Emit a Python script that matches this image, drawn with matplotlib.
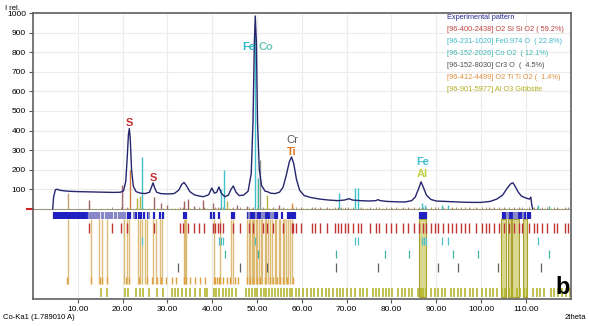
import matplotlib
matplotlib.use("Agg")
import matplotlib.pyplot as plt
import matplotlib.transforms as mtransforms

plt.rcParams['font.family'] = ['Liberation Sans', 'DejaVu Sans']

# experimental pattern (2theta, I rel.)
two_theta = [4.4, 4.6, 5.0, 5.5, 6.0, 7.0, 8.0, 10.0, 12.0, 14.0, 16.0, 18.0, 19.5, 20.2, 20.7,
             21.0, 21.3, 21.5, 21.7, 22.0, 22.4, 23.0, 24.0, 25.0, 26.0, 26.5, 26.8, 27.1, 27.6,
             28.5, 30.0, 31.5, 32.5, 33.2, 33.7, 34.2, 35.0, 36.0, 37.0, 38.0, 39.2, 39.9, 40.5,
             41.0, 41.5, 42.0, 42.8, 43.6, 44.2, 44.7, 45.3, 46.0, 47.0, 48.0, 48.7, 49.1, 49.4,
             49.6, 49.85, 50.1, 50.5, 51.0, 51.8, 52.3, 53.0, 54.0, 55.0, 55.8, 56.5, 57.2, 57.7,
             58.2, 58.8, 59.5, 60.5, 62.0, 64.0, 66.0, 68.0, 69.5, 70.5, 71.3, 73.0, 75.0, 76.5,
             77.0, 77.5, 79.0, 81.0, 83.0, 84.5, 85.3, 86.0, 86.6, 87.2, 87.8, 88.8, 90.0, 92.0,
             94.0, 96.0, 98.0, 100.0, 102.0, 103.5, 104.8, 105.8, 106.6, 107.1, 107.6, 108.3,
             109.0, 110.0, 110.8, 111.1, 111.3, 111.5]
intensity = [0, 60, 98, 100, 95, 92, 90, 88, 87, 86, 85, 84, 85, 92, 140,
             250, 380, 410, 360, 200, 115, 88, 80, 78, 85, 115, 133, 110, 85,
             78, 76, 78, 95, 125, 135, 120, 88, 72, 66, 62, 72, 106, 80,
             85, 112, 80, 62, 70, 100, 117, 85, 68, 70, 90, 180, 450, 850,
             985, 850, 450, 200, 120, 90, 88, 80, 78, 85, 110, 170, 240, 265,
             230, 150, 95, 68, 58, 50, 45, 42, 45, 52, 45, 42, 40, 42,
             47, 42, 38, 36, 35, 42, 60, 100, 138, 105, 70, 48, 40, 38,
             36, 34, 33, 33, 38, 50, 70, 105, 128, 133, 115, 85,
             65, 55, 50, 60, 20, 2]

# peak markers of the experimental pattern
exp_marks_dark = [4.6, 5.0, 5.4, 5.8, 6.3, 6.7, 7.2, 7.6, 8.1, 8.5, 9.0, 9.4, 9.9, 10.3, 10.8,
                  11.2, 11.7, 12.1, 21.3, 21.7, 23.0, 23.6, 24.2, 24.8, 25.6, 27.0, 28.4, 29.1,
                  33.6, 33.9, 34.2, 39.8, 40.3, 41.6, 44.3, 44.8, 47.9, 48.3, 48.7, 49.1, 49.5,
                  49.9, 50.3, 50.7, 52.0, 52.4, 52.8, 54.0, 54.4, 55.5, 56.9, 57.3, 57.7, 58.1,
                  58.5, 86.4, 86.8, 87.2, 87.6, 104.9, 105.3, 106.5, 106.9, 108.4, 108.8, 109.8,
                  110.4, 110.9]
exp_marks_light = [12.6, 13.0, 13.4, 13.9, 14.3, 14.8, 15.3, 15.7, 16.2, 16.7, 17.2, 17.7, 18.2,
                   18.6, 19.1, 19.6, 20.0, 20.5, 22.5, 26.0, 48.1, 49.7, 51.2, 51.6, 53.2, 53.6,
                   105.7, 106.1, 107.3, 107.7, 108.0, 109.3]

# reference phases
sio2 = [12.5, 17.7, 19.7, 21.0, 27.0, 32.9, 33.5, 34.7, 35.9, 37.1, 38.2, 40.1, 40.7, 41.2,
        41.8, 42.4, 44.7, 46.1, 48.1, 49.2, 51.4, 52.2, 53.6, 55.8, 57.7, 58.1, 58.8, 59.9,
        62.2, 62.9, 64.0, 65.5, 67.3, 68.1, 68.8, 69.6, 70.3, 71.4, 72.5, 73.3, 75.1, 76.6,
        77.3, 78.8, 79.9, 81.0, 82.5, 83.6, 85.1, 86.2, 87.0, 87.7, 88.8, 89.6, 90.3, 91.4,
        92.5, 93.6, 94.4, 95.5, 96.4, 97.3, 98.8, 100.3, 101.0, 101.8, 102.9, 104.0, 105.1,
        106.2, 107.3, 108.4, 109.2, 110.7, 111.8, 112.5, 113.6, 114.7, 116.2, 117.0, 118.8, 119.4]
feo = [24.3, 41.5, 42.0, 42.5, 49.6, 71.9, 72.6, 86.8, 87.3, 87.8, 91.3, 92.6, 112.6]
coo2 = [42.8, 50.3, 67.7, 78.6, 83.8, 93.8, 99.2, 115.2]
cr3o = [32.4, 46.2, 52.2, 67.6, 77.0, 90.3, 94.9, 103.8, 113.3]
tio2 = [7.7, 12.9, 14.9, 15.5, 16.6, 20.7, 21.4, 23.6, 25.5, 26.6, 27.7, 28.6, 29.7, 31.0,
        32.0, 33.6, 34.1, 35.1, 36.2, 37.3, 38.4, 40.3, 40.7, 41.0, 41.4, 41.8, 42.5, 43.3,
        44.0, 45.1, 45.8, 47.7, 48.4, 49.2, 49.9, 50.7, 51.8, 52.9, 53.6, 54.4, 55.1, 55.8,
        56.6, 58.1]
gibbsite = [15.1, 16.6, 20.6, 21.3, 23.0, 23.8, 24.5, 25.9, 27.6, 29.0, 31.0, 31.7, 32.4, 33.3,
            34.1, 35.0, 36.2, 37.3, 38.3, 38.8, 40.3, 40.9, 41.6, 42.3, 43.0, 43.7, 44.4, 45.2,
            47.6, 48.2, 48.9, 49.5, 50.1, 50.8, 51.5, 52.1, 52.7, 53.4, 54.0, 54.7, 55.3, 56.0,
            56.6, 57.3, 57.9, 58.6, 59.4, 60.3, 61.2, 62.0, 62.8, 63.5, 64.6, 65.4, 66.1, 66.9,
            67.8, 68.6, 69.2, 70.1, 71.0, 71.8, 72.9, 73.6, 74.5, 75.8, 76.5, 77.3, 78.0, 78.7,
            79.4, 80.2, 81.5, 82.3, 83.0, 83.8, 84.6, 86.0, 86.5, 87.1, 87.7, 88.9, 89.6, 90.4,
            91.2, 92.0, 93.3, 94.0, 94.8, 95.6, 96.4, 97.5, 98.3, 99.0, 100.2, 101.0, 101.9,
            102.7, 103.5, 104.6, 105.4, 106.2, 107.0, 107.9, 108.7, 109.5, 110.3, 111.5, 112.4,
            113.2, 114.0, 115.5, 116.3, 117.2, 118.1, 119.0, 119.8]
# lines marking matched peaks across the phase rows
matched_long = [7.8, 12.9, 14.8, 15.4, 16.6, 20.4, 21.0, 21.5, 23.4, 23.9, 24.4, 25.0, 25.5, 26.8,
                27.5, 28.3, 28.8, 33.6, 33.9, 34.2, 40.4, 41.7, 44.2, 44.6, 47.8, 48.1, 48.4, 48.8,
                49.1, 49.4, 49.7, 50.0, 50.4, 50.8, 51.2, 51.7, 52.1, 52.5, 53.0, 53.4, 53.9, 54.3,
                54.8, 55.2, 55.7, 56.1, 56.5, 57.0, 57.4, 57.8]
matched_bands = [(86.2, 87.7), (104.5, 105.5), (105.9, 106.6), (106.9, 108.4), (109.4, 110.2)]

# reference sticks drawn above the baseline (position, height, colour)
stick_pos = [7.8, 12.4, 19.8, 21.6, 23.3, 23.8, 24.4, 26.9, 28.5, 30.0, 33.8, 34.6, 36.0, 38.0,
             40.2, 41.9, 42.6, 43.3, 45.5, 47.7, 49.5, 50.3, 50.6, 52.2, 55.0, 57.8, 68.2, 71.8,
             72.5, 86.8, 87.5, 91.3, 92.6, 112.6, 115.2]
stick_h = [80, 45, 122, 200, 55, 65, 265, 60, 30, 20, 40, 50, 15, 45,
           30, 100, 200, 40, 20, 15, 900, 160, 250, 70, 20, 30, 80, 107,
           107, 30, 20, 18, 18, 20, 15]
stick_col = ['#c8a070', '#a06060', '#a07070', '#c87840', '#b8b040', '#b8b040', '#40c0c8',
             '#a06060', '#a07070', '#a07070', '#a06060', '#a06060', '#a07070', '#a06060',
             '#a07070', '#40c0c8', '#40c0c8', '#b8b040', '#a07070', '#a07070', '#40c0c8',
             '#40b0a0', '#909090', '#b8b040', '#a07070', '#e09040', '#40c0c8', '#40c0c8',
             '#40c0c8', '#40c0c8', '#40c0c8', '#40c0c8', '#40c0c8', '#40c0c8', '#40b0a0']

legend_labels = ['Experimental pattern',
                 '[96-400-2438] O2 Si Si O2 ( 59.2%)',
                 '[96-231-1020] Fe0.974 O  ( 22.8%)',
                 '[96-152-2026] Co O2  ( 12.1%)',
                 '[96-152-8030] Cr3 O  (  4.5%)',
                 '[96-412-4499] O2 Ti Ti O2 (  1.4%)',
                 '[96-901-5977] Al O3 Gibbsite']
legend_colors = ['#2a2a90', '#c04040', '#40b8c8', '#40b8b0', '#505050', '#e09040', '#b0b020']

fig = plt.figure(figsize=(5.89, 3.26), dpi=100)
ax = fig.add_axes([0.056, 0.083, 0.913, 0.877])
ax.set_xlim(0, 120)
ax.set_ylim(-460, 1000)

# grid
for gx in range(10, 120, 10):
    ax.axvline(gx, color='#ececec', lw=0.8, zorder=0)
for gy in range(100, 1001, 100):
    ax.axhline(gy, color='#ececec', lw=0.8, zorder=0)

# phase rows below zero
ax.vlines(matched_long, -51, -383, colors='#d8b060', lw=1.0, alpha=0.85, zorder=1)
for a, b in matched_bands:
    ax.axvspan(a, b, ymin=(-449 + 460) / 1460, ymax=(-51 + 460) / 1460,
               facecolor='#d8d890', edgecolor='#a8a030', lw=0.8, zorder=1)
ax.vlines(exp_marks_dark, -15, -51, colors='#2020c0', lw=1.6, zorder=3)
ax.vlines(exp_marks_light, -15, -51, colors='#8888c8', lw=1.6, zorder=3)
ax.vlines(sio2, -71, -122, colors='#c03535', lw=1.0, zorder=2)
ax.vlines(feo, -143, -184, colors='#50c0c8', lw=0.9, zorder=2)
ax.vlines(coo2, -209, -250, colors='#40b0a0', lw=0.9, zorder=2)
ax.vlines(cr3o, -276, -321, colors='#606060', lw=0.9, zorder=2)
ax.vlines(tio2, -347, -383, colors='#e0a040', lw=1.0, zorder=2)
ax.vlines(gibbsite, -403, -449, colors='#b0b020', lw=1.1, zorder=2)

# baseline and reference sticks
ax.axhline(0, color='#9a9a80', lw=0.8, zorder=2)
ax.vlines(sio2, 0, 7, colors='#a07070', lw=0.6, zorder=2)
ax.vlines(gibbsite, 0, 4, colors='#b0b040', lw=0.6, zorder=2)
ax.vlines(stick_pos, 0, stick_h, colors=stick_col, lw=1.0, zorder=2)

# experimental pattern
ax.plot(two_theta, intensity, color='#26266e', lw=1.0, zorder=4)

# peak labels
ax.text(21.6, 440, 'S', color='#c83030', fontsize=8, fontweight='bold', ha='center', va='center')
ax.text(26.9, 158, 'S', color='#c83030', fontsize=8, fontweight='bold', ha='center', va='center')
ax.text(48.2, 827, 'Fe', color='#30b8c8', fontsize=8, fontweight='bold', ha='center', va='center', zorder=5)
ax.text(52.0, 827, 'Co', color='#70c8b8', fontsize=8, fontweight='bold', ha='center', va='center', zorder=5)
ax.text(57.8, 352, 'Cr', color='#555555', fontsize=8, ha='center', va='center')
ax.text(57.8, 290, 'Ti', color='#e07820', fontsize=8, fontweight='bold', ha='center', va='center')
ax.text(86.9, 240, 'Fe', color='#40c0d0', fontsize=8, fontweight='bold', ha='center', va='center')
ax.text(86.9, 179, 'Al', color='#c0d040', fontsize=8, fontweight='bold', ha='center', va='center')

# legend as text lines
for i, (lab, col) in enumerate(zip(legend_labels, legend_colors)):
    ax.text(0.770, 0.983 - i * 0.042, lab, color=col, fontsize=5.3,
            transform=ax.transAxes, ha='left', va='center')

# axes styling
ax.set_yticks(range(100, 1001, 100))
ax.set_xticks(range(10, 120, 10))
ax.set_xticklabels([f'{v:.2f}' for v in range(10, 120, 10)])
ax.tick_params(labelsize=6, length=3, width=0.8, color='#555555', pad=2)
for s in ax.spines.values():
    s.set_color('#606060')
    s.set_linewidth(1.2)
trans = mtransforms.blended_transform_factory(ax.transAxes, ax.transData)
ax.plot([-0.012, 0.0], [0, 0], color='#d02020', lw=1.5, transform=trans, clip_on=False)

fig.text(0.008, 0.975, 'I rel.', fontsize=5.5, ha='left', va='center')
fig.text(0.005, 0.025, 'Co-Ka1 (1.789010 A)', fontsize=5.5, ha='left', va='center')
fig.text(0.977, 0.025, '2theta', fontsize=5.5, ha='center', va='center')
fig.text(0.956, 0.117, 'b', fontsize=17, fontweight='bold', ha='center', va='center')

fig.savefig('out.png', dpi=100)
